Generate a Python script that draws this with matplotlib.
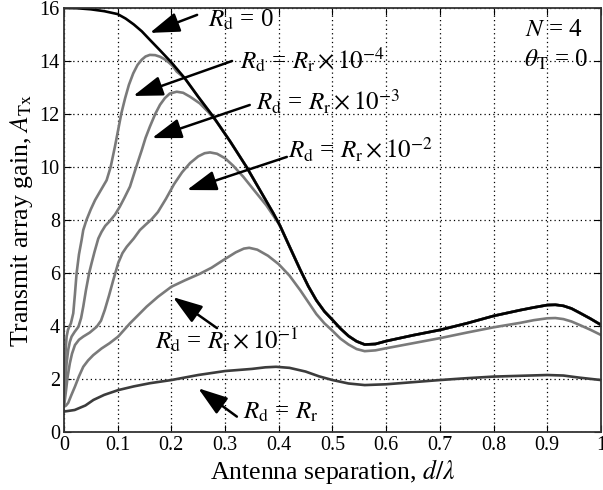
import matplotlib.pyplot as plt
import numpy as np

plt.rcParams['font.family'] = ['Liberation Serif', 'DejaVu Serif']
plt.rcParams['mathtext.fontset'] = 'stix'

# R_d = 0 (lossless)
x_r0 = [0, 0.025, 0.05, 0.075, 0.1, 0.115, 0.13, 0.145, 0.16, 0.179, 0.2, 0.225, 0.25,
        0.278, 0.31, 0.34, 0.37, 0.39, 0.402, 0.42, 0.44, 0.455, 0.47, 0.485, 0.5, 0.515,
        0.53, 0.545, 0.56, 0.58, 0.6, 0.65, 0.7, 0.75, 0.8, 0.85, 0.875, 0.9, 0.915,
        0.93, 0.945, 0.96, 0.98, 1.0]
y_r0 = [16, 15.99, 15.95, 15.88, 15.77, 15.6, 15.38, 15.12, 14.8, 14.4, 13.95, 13.35, 12.65,
        11.9, 10.95, 10.0, 8.95, 8.25, 7.8, 7.0, 6.12, 5.5, 4.97, 4.55, 4.23, 3.9,
        3.62, 3.42, 3.3, 3.32, 3.43, 3.65, 3.85, 4.1, 4.38, 4.6, 4.7, 4.79, 4.8,
        4.76, 4.66, 4.5, 4.28, 4.04]

# R_d = R_r x 1e-4 (rising part, afterwards it runs under R_d = 0)
x_r4 = [0, 0.001, 0.002, 0.0035, 0.005, 0.0075, 0.0099, 0.013, 0.0174, 0.0205, 0.0236,
        0.028, 0.033, 0.036, 0.042, 0.05, 0.058, 0.068, 0.0795, 0.087, 0.095, 0.101,
        0.107, 0.114, 0.121, 0.129, 0.137, 0.145, 0.152, 0.16, 0.17, 0.179, 0.187,
        0.195, 0.203, 0.21]
y_r4 = [1.0, 1.8, 2.5, 3.2, 3.6, 3.85, 3.97, 4.1, 4.48, 5.2, 5.99,
        6.7, 7.25, 7.62, 8.0, 8.4, 8.75, 9.1, 9.5, 10.0, 10.77, 11.4,
        12.03, 12.6, 13.1, 13.53, 13.85, 14.05, 14.17, 14.23, 14.22, 14.16, 14.07,
        13.95, 13.8, 13.6]

# R_d = R_r x 1e-3
x_r3 = [0, 0.003, 0.005, 0.008, 0.011, 0.0143, 0.02, 0.027, 0.032, 0.036, 0.041, 0.047,
        0.0515, 0.057, 0.064, 0.07, 0.077, 0.085, 0.095, 0.104, 0.113, 0.123, 0.133,
        0.145, 0.152, 0.16, 0.17, 0.179, 0.188, 0.197, 0.21, 0.222, 0.235, 0.253,
        0.27, 0.284]
y_r3 = [1.0, 2.0, 2.6, 3.1, 3.4, 3.6, 3.78, 3.97, 4.3, 4.73, 5.35, 6.0,
        6.37, 6.8, 7.3, 7.55, 7.78, 7.95, 8.2, 8.5, 8.85, 9.26, 9.9,
        10.64, 11.1, 11.52, 12.0, 12.35, 12.6, 12.77, 12.84, 12.8, 12.65, 12.4,
        12.05, 11.72]

# R_d = R_r x 1e-2
x_r2 = [0, 0.002, 0.004, 0.007, 0.011, 0.015, 0.0205, 0.028, 0.036, 0.048, 0.061, 0.069,
        0.076, 0.084, 0.092, 0.101, 0.109, 0.117, 0.13, 0.1415, 0.152, 0.163, 0.175,
        0.19, 0.205, 0.22, 0.235, 0.25, 0.262, 0.272, 0.285, 0.3, 0.315, 0.334, 0.355,
        0.377, 0.396]
y_r2 = [1.0, 1.25, 1.58, 2.1, 2.59, 2.95, 3.28, 3.48, 3.6, 3.75, 3.97, 4.2,
        4.6, 5.15, 5.74, 6.37, 6.75, 6.99, 7.3, 7.62, 7.82, 8.02, 8.3,
        8.8, 9.35, 9.8, 10.15, 10.4, 10.52, 10.55, 10.5, 10.33, 10.05, 9.63, 9.1,
        8.55, 7.98]

# R_d = R_r x 1e-1
x_r1 = [0, 0.004, 0.008, 0.014, 0.0205, 0.028, 0.036, 0.045, 0.0546, 0.07, 0.085, 0.101,
        0.112, 0.123, 0.154, 0.175, 0.2, 0.225, 0.253, 0.275, 0.297, 0.32, 0.335, 0.345,
        0.36, 0.38, 0.4, 0.42, 0.44, 0.455, 0.47, 0.485, 0.5, 0.515, 0.53, 0.545, 0.56,
        0.58, 0.6, 0.65, 0.7, 0.75, 0.8, 0.85, 0.875, 0.9, 0.915, 0.93, 0.945, 0.96,
        0.98, 1.0]
y_r1 = [0.95, 1.0, 1.1, 1.4, 1.71, 2.1, 2.46, 2.7, 2.9, 3.15, 3.35, 3.6,
        3.85, 4.1, 4.73, 5.1, 5.48, 5.72, 5.97, 6.2, 6.49, 6.78, 6.92, 6.95,
        6.88, 6.65, 6.33, 5.9, 5.35, 4.9, 4.45, 4.1, 3.82, 3.52, 3.3, 3.13, 3.05,
        3.08, 3.16, 3.35, 3.54, 3.75, 3.95, 4.12, 4.22, 4.29, 4.3, 4.26, 4.17, 4.04,
        3.86, 3.66]

# R_d = R_r
x_rr = [0, 0.02, 0.04, 0.055, 0.075, 0.101, 0.13, 0.16, 0.2, 0.25, 0.3, 0.35, 0.375,
        0.395, 0.42, 0.45, 0.475, 0.5, 0.53, 0.56, 0.6, 0.65, 0.7, 0.75, 0.8, 0.85,
        0.9, 0.93, 0.96, 1.0]
y_rr = [0.77, 0.83, 1.0, 1.21, 1.4, 1.58, 1.72, 1.84, 1.96, 2.15, 2.3, 2.38, 2.44,
        2.46, 2.42, 2.28, 2.1, 1.96, 1.83, 1.77, 1.8, 1.88, 1.96, 2.03, 2.09, 2.12,
        2.15, 2.13, 2.05, 1.96]


def join_black(xs, ys):
    # once merged, the curve runs on R_d = 0
    bx = np.array(x_r0)
    by = np.array(y_r0)
    m = bx > xs[-1]
    return np.concatenate([xs, bx[m]]), np.concatenate([ys, by[m]])


fig = plt.figure(figsize=(6.03, 4.90), dpi=100)
ax = fig.add_axes([0.106, 0.1184, 0.8907, 0.8653])

gray = '#7a7a7a'
lw = 1.9
for xs, ys in [(x_r4, y_r4), (x_r3, y_r3), (x_r2, y_r2)]:
    jx, jy = join_black(xs, ys)
    ax.plot(jx, jy, color=gray, lw=lw, solid_joinstyle='round')
ax.plot(x_r1, y_r1, color=gray, lw=lw, solid_joinstyle='round')
ax.plot(x_rr, y_rr, color='#3c3c3c', lw=lw, solid_joinstyle='round')
ax.plot(x_r0, y_r0, color='black', lw=lw, solid_joinstyle='round')

ax.set_xlim(0, 1)
ax.set_ylim(0, 16)
ax.set_xticks(np.arange(0, 1.01, 0.1))
ax.set_xticklabels(['0', '0.1', '0.2', '0.3', '0.4', '0.5', '0.6', '0.7', '0.8', '0.9', '1'])
ax.set_yticks(np.arange(0, 17, 2))
ax.grid(True, linestyle=(0, (1, 2.5)), color='black', lw=0.9)
ax.tick_params(direction='in', top=True, right=True, length=5, labelsize=14.5, pad=3)
for s in ax.spines.values():
    s.set_linewidth(1.3)
    s.set_color('#333333')

ax.set_xlabel(r'Antenna separation, $d/\lambda$', fontsize=18.5, labelpad=1)
ax.set_ylabel(r'Transmit array gain, $A_{\mathrm{Tx}}$', fontsize=18.5, labelpad=3)

arrow = dict(arrowstyle='-|>,head_length=0.95,head_width=0.32', color='black', lw=1.8,
             mutation_scale=19, shrinkA=0, shrinkB=0)
fs = 18
notes = [
    (r'$R_{\mathrm{d}}$ = 0', (0.268, 15.55), (0.248, 15.74), (0.16, 15.06)),
    (r'$R_{\mathrm{d}}$ = $R_{\mathrm{r}}\times 10^{-4}$', (0.328, 14.04), (0.313, 14.0), (0.129, 12.68)),
    (r'$R_{\mathrm{d}}$ = $R_{\mathrm{r}}\times 10^{-3}$', (0.357, 12.45), (0.346, 12.34), (0.164, 11.09)),
    (r'$R_{\mathrm{d}}$ = $R_{\mathrm{r}}\times 10^{-2}$', (0.417, 10.64), (0.415, 10.38), (0.229, 9.13)),
    (r'$R_{\mathrm{d}}$ = $R_{\mathrm{r}}\times 10^{-1}$', (0.169, 3.47), (0.285, 3.92), (0.203, 5.09)),
    (r'$R_{\mathrm{d}}$ = $R_{\mathrm{r}}$', (0.333, 0.75), (0.322, 0.58), (0.25, 1.65)),
]
for txt, tpos, a0, a1 in notes:
    ax.text(tpos[0], tpos[1], txt, fontsize=fs, ha='left', va='center')
    ax.annotate('', xy=a1, xytext=a0, arrowprops=arrow)

ax.text(0.858, 15.17, r'$N$ = 4', fontsize=fs, ha='left', va='center')
ax.text(0.856, 14.04, r'$\theta_{\mathrm{T}}$ = 0', fontsize=fs, ha='left', va='center')

fig.savefig('out.png', dpi=100)
